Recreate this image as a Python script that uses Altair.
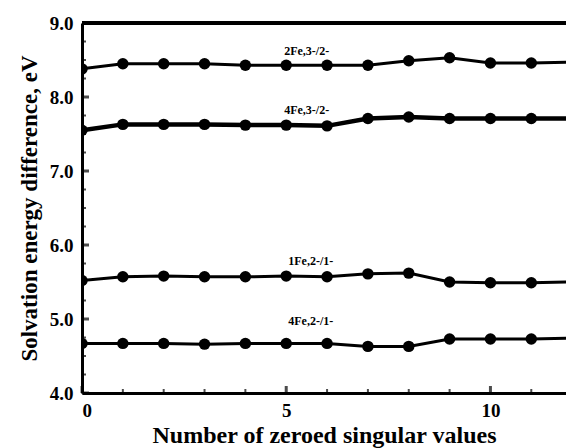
import altair as alt
import pandas as pd

# ---- data ----
x_vals = [0, 1, 2, 3, 4, 5, 6, 7, 8, 9, 10, 11, 12]
series_names = ["2Fe,3-/2-", "4Fe,3-/2-", "1Fe,2-/1-", "4Fe,2-/1-"]
s_2fe32 = [8.38, 8.45, 8.45, 8.45, 8.43, 8.43, 8.43, 8.43, 8.49, 8.53, 8.46, 8.46, 8.47]
s_4fe32 = [7.55, 7.63, 7.63, 7.63, 7.62, 7.62, 7.61, 7.71, 7.73, 7.71, 7.71, 7.71, 7.71]
s_1fe21 = [5.52, 5.57, 5.58, 5.57, 5.57, 5.58, 5.57, 5.61, 5.62, 5.50, 5.49, 5.49, 5.50]
s_4fe21 = [4.67, 4.67, 4.67, 4.66, 4.67, 4.67, 4.67, 4.63, 4.63, 4.73, 4.73, 4.73, 4.74]
label_x = [5.5, 5.5, 5.6, 5.6]
label_y = [8.62, 7.83, 5.78, 4.97]
y_major = [4, 5, 6, 7, 8, 9]
y_minor = [4.25, 4.5, 4.75, 5.25, 5.5, 5.75, 6.25, 6.5, 6.75, 7.25, 7.5, 7.75, 8.25, 8.5, 8.75]
x_major = [0, 5, 10]
x_minor = [1, 2, 3, 4, 6, 7, 8, 9, 11]

all_series = [s_2fe32, s_4fe32, s_1fe21, s_4fe21]
rows = []
for name, vals in zip(series_names, all_series):
    for xv, yv in zip(x_vals, vals):
        rows.append({"x": xv, "y": yv, "series": name})
df = pd.DataFrame(rows)
labels_df = pd.DataFrame({"x": label_x, "y": label_y, "name": series_names})
ymaj_df = pd.DataFrame({"y": y_major})
ymin_df = pd.DataFrame({"y": y_minor})
xmaj_df = pd.DataFrame({"x": x_major})
xmin_df = pd.DataFrame({"x": x_minor})

FONT = "Liberation Serif"
xscale = alt.Scale(domain=[0, 11.85], nice=False, zero=False)
yscale = alt.Scale(domain=[4, 9], nice=False, zero=False)

x_axis = alt.Axis(values=x_major, format="d", ticks=False, grid=False,
                  domainColor="black", domainWidth=3,
                  labelFont=FONT, labelFontSize=19, labelFontWeight="bold",
                  labelColor="black", labelPadding=8,
                  title="Number of zeroed singular values",
                  titleFont=FONT, titleFontSize=24, titleFontWeight="bold",
                  titleColor="black", titlePadding=3)
y_axis = alt.Axis(values=y_major, format=".1f", ticks=False, grid=False,
                  domainColor="black", domainWidth=3,
                  labelFont=FONT, labelFontSize=19, labelFontWeight="bold",
                  labelColor="black", labelPadding=9,
                  title="Solvation energy difference, eV",
                  titleFont=FONT, titleFontSize=23, titleFontWeight="bold",
                  titleColor="black", titlePadding=8)

lines = alt.Chart(df).mark_line(color="black", clip=True).encode(
    x=alt.X("x:Q", scale=xscale, axis=x_axis),
    y=alt.Y("y:Q", scale=yscale, axis=y_axis),
    detail="series:N",
    strokeWidth=alt.condition(alt.datum.series == "4Fe,3-/2-", alt.value(4.5), alt.value(3)),
)
points = alt.Chart(df).transform_filter(alt.datum.x <= 11).mark_point(
    filled=True, color="black", opacity=1, size=130, clip=True
).encode(x="x:Q", y="y:Q")

top_rule = alt.Chart(ymaj_df).mark_rule(color="black", strokeWidth=3.5).encode(
    y=alt.datum(9)
)

ymaj_ticks = alt.Chart(ymaj_df).mark_tick(
    orient="horizontal", size=7, thickness=3, xOffset=3.5, color="black"
).encode(x=alt.datum(0), y="y:Q")
ymin_ticks = alt.Chart(ymin_df).mark_tick(
    orient="horizontal", size=4, thickness=2, xOffset=2, color="black"
).encode(x=alt.datum(0), y="y:Q")
xmaj_ticks = alt.Chart(xmaj_df).mark_tick(
    orient="vertical", size=7, thickness=3, yOffset=-3.5, color="black"
).encode(x="x:Q", y=alt.datum(4))
xmin_ticks = alt.Chart(xmin_df).mark_tick(
    orient="vertical", size=4, thickness=2, yOffset=-2, color="black"
).encode(x="x:Q", y=alt.datum(4))

texts = alt.Chart(labels_df).mark_text(
    font=FONT, fontSize=12, fontWeight="bold", color="black"
).encode(x="x:Q", y="y:Q", text="name:N")

chart = alt.layer(
    top_rule, ymin_ticks, ymaj_ticks, xmin_ticks, xmaj_ticks, lines, points, texts
).properties(
    width=484, height=370, autosize="none",
    padding={"left": 82, "top": 23, "right": 0, "bottom": 55},
    background="white",
).configure_view(stroke=None)

chart.save("out.html", embed_options={"renderer": "svg", "actions": False})
